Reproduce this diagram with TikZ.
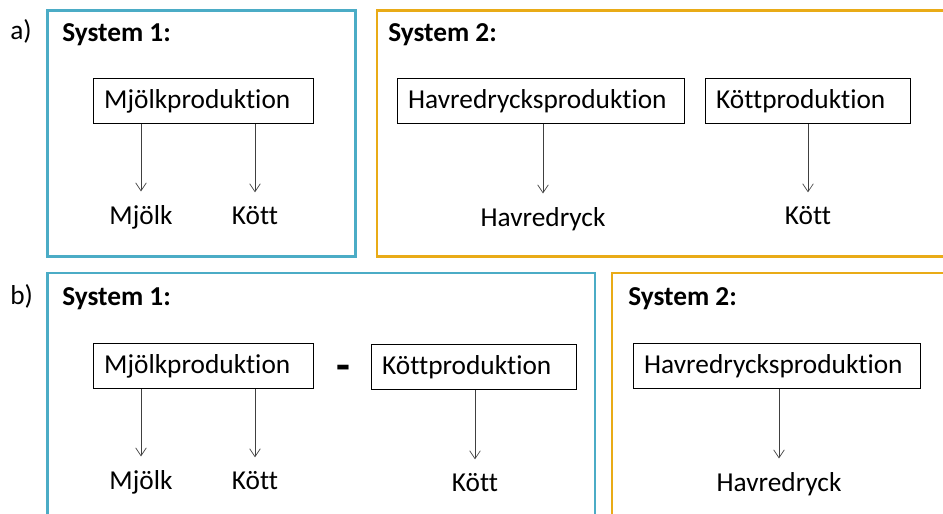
\documentclass[tikz,border=0pt]{standalone}
\usepackage{fontspec}
\setmainfont{Carlito}[Ligatures=NoCommon]
\usetikzlibrary{arrows.meta}

\definecolor{sysone}{RGB}{75,172,198}
\definecolor{systwo}{RGB}{233,171,23}

\begin{document}
\begin{tikzpicture}[
    x = 0.75pt,
    y = -0.75pt,
    font = \fontsize{20.5}{24}\selectfont,
    >={Straight Barb[length=6pt,width=8pt]},
    frame/.style = {
      line width = 2.2pt
    },
    prod/.style = {
      draw,
      line width = 0.8pt,
      anchor = north west,
      align = left,
      text width = #1,
      inner xsep = 8pt,
      inner ysep = 0pt,
      minimum height = 33.75pt
    },
    product/.style = {
      anchor = base,
      inner ysep = 10pt
    },
    flow/.style = {
      ->,
      draw = black!75,
      line width = 0.5pt
    },
    tag/.style = {
      anchor = base west,
      inner sep = 0pt
    },
    head/.style = {
      anchor = base west,
      inner sep = 0pt,
      font = \fontsize{20.5}{24}\selectfont\bfseries
    }
  ]
  \useasboundingbox (0,0) rectangle (943,514);

  % system frames, the right and lower ones run off the page
  \begin{scope}
    \clip (0,0) rectangle (943,514);
    \draw[frame, sysone] (47.5,10.5) rectangle (355.5,256.5);
    \draw[frame, systwo] (377,10.5) rectangle (960,256.5);
    \draw[frame, sysone] (47.5,273) rectangle (595,530);
    \draw[frame, systwo] (612,273) rectangle (960,530);
  \end{scope}

  % a)
  \node[tag] (tagA) at (10,40) {a)};
  \node[head] (sysOneA) at (62,41) {System 1:};
  \node[head] (sysTwoA) at (388,41) {System 2:};

  \node[prod=149pt] (milkA) at (93,78) {Mjölkproduktion};
  \node[prod=199pt] (oatA) at (397,78) {Havredrycksproduktion};
  \node[prod=137.75pt] (meatA) at (705,78) {Köttproduktion};

  \node[product] (milkOutA) at (141,224) {Mjölk};
  \node[product] (meatOutA) at (255,224) {Kött};
  \node[product] (oatOutA) at (543,226) {Havredryck};
  \node[product] (meatOnlyA) at (808,224) {Kött};

  \draw[flow] (milkA.south -| milkOutA) -- (milkOutA.north);
  \draw[flow] (milkA.south -| meatOutA) -- (meatOutA.north);
  \draw[flow] (oatA.south -| oatOutA) -- (oatOutA.north);
  \draw[flow] (meatA.south -| meatOnlyA) -- (meatOnlyA.north);

  % b)
  \node[tag] (tagB) at (10,304) {b)};
  \node[head] (sysOneB) at (62,305) {System 1:};
  \node[head] (sysTwoB) at (628,305) {System 2:};

  \node[prod=149pt] (milkB) at (93,343) {Mjölkproduktion};
  \node[head, anchor=base, font=\fontsize{34}{36}\selectfont\bfseries] (minus) at (343,380) {-};
  \node[prod=137.75pt] (meatB) at (371,344) {Köttproduktion};
  \node[prod=199pt] (oatB) at (633,343) {Havredrycksproduktion};

  \node[product] (milkOutB) at (141,489) {Mjölk};
  \node[product] (meatOutB) at (255,489) {Kött};
  \node[product] (meatOnlyB) at (475,491) {Kött};
  \node[product] (oatOutB) at (779,491) {Havredryck};

  \draw[flow] (milkB.south -| milkOutB) -- (milkOutB.north);
  \draw[flow] (milkB.south -| meatOutB) -- (meatOutB.north);
  \draw[flow] (meatB.south -| meatOnlyB) -- (meatOnlyB.north);
  \draw[flow] (oatB.south -| oatOutB) -- (oatOutB.north);
\end{tikzpicture}
\end{document}
